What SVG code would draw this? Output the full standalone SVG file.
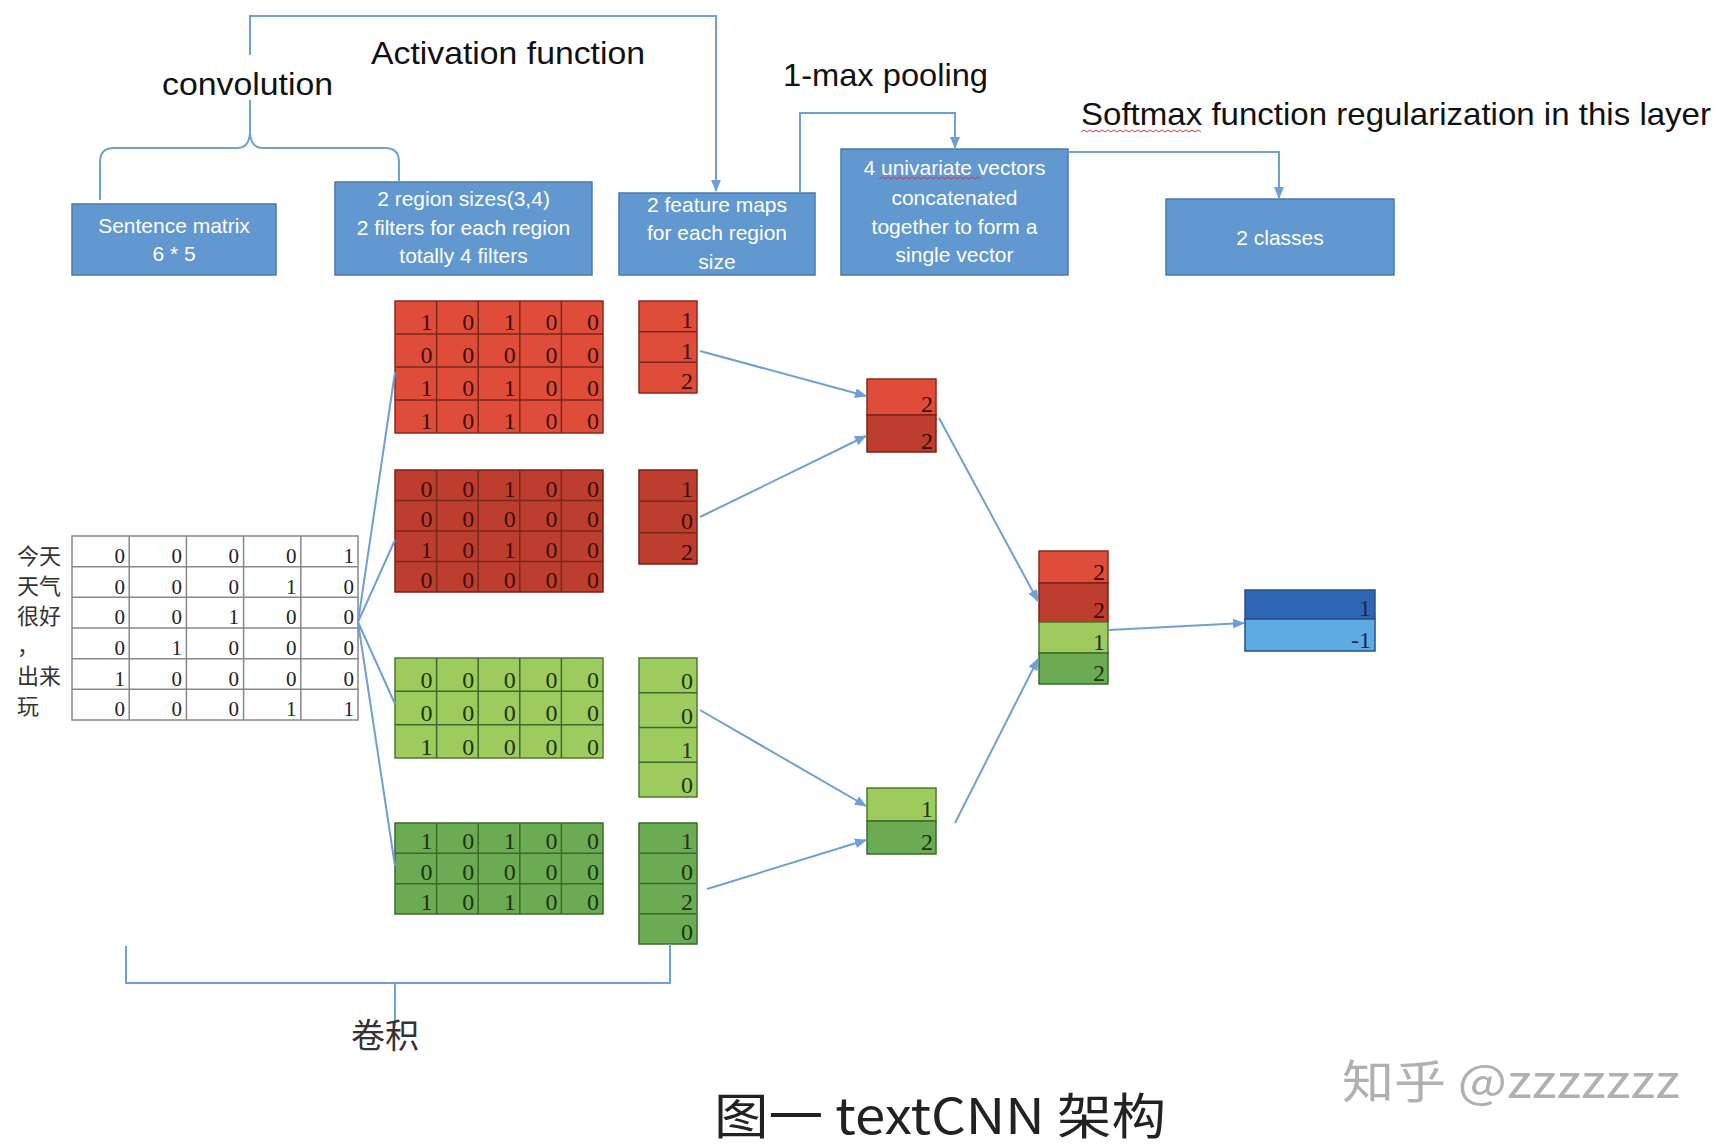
<svg xmlns="http://www.w3.org/2000/svg" width="1724" height="1148" viewBox="0 0 1724 1148">
<style>
.conn{fill:none;stroke:#6f9fd8;stroke-width:2}
.box{fill:#6298d0;stroke:#4a78b0;stroke-width:1.5}
.bt{font-family:'Liberation Sans',Arial,sans-serif;font-size:21px;fill:#fff;text-anchor:middle}
.lab{font-family:'Liberation Sans',Arial,sans-serif;font-size:32px;fill:#111}
.num{font-family:'Liberation Serif','Times New Roman',serif;font-size:24px;text-anchor:end}
.tnum{font-family:'Liberation Serif','Times New Roman',serif;font-size:21px;text-anchor:end;fill:#222}
.cjk{font-family:'Liberation Serif','Noto Sans CJK SC',serif;font-size:22px;fill:#333}
.rl{fill:#df4d3a;stroke:#8a2a1d;stroke-width:1.5}
.rd{fill:#bd3d2e;stroke:#7a2216;stroke-width:1.5}
.gl{fill:#9ecb5e;stroke:#4d7a30;stroke-width:1.5}
.gd{fill:#6aab53;stroke:#3c6b2a;stroke-width:1.5}
.bd{fill:#2f66b3;stroke:#2a4f85;stroke-width:1.5}
.bl{fill:#5dabe3;stroke:#2a4f85;stroke-width:1.5}
.rg{stroke:#7d271b;stroke-width:1.5;fill:none}
.gg{stroke:#3d6a2a;stroke-width:1.5;fill:none}
.rt{fill:#3d0e06}
.gt{fill:#1c3510}
.wt{fill:#152a55}
.squig{fill:none;stroke:#d23a3a;stroke-width:1}
</style>
<defs>
<marker id="ah" markerUnits="userSpaceOnUse" markerWidth="12" markerHeight="10" refX="11" refY="5" orient="auto">
<path d="M0,0 L12,5 L0,10 z" fill="#6f9fd8"/>
</marker>
</defs>

<!-- top labels -->
<g id="labels">
<text class="lab" x="162" y="95" textLength="171" lengthAdjust="spacingAndGlyphs">convolution</text>
<text class="lab" x="371" y="64" textLength="274" lengthAdjust="spacingAndGlyphs">Activation function</text>
<text class="lab" x="783" y="86" textLength="205" lengthAdjust="spacingAndGlyphs">1-max pooling</text>
<text class="lab" x="1081" y="125" textLength="630" lengthAdjust="spacingAndGlyphs">Softmax function regularization in this layer</text>
<path class="squig" d="M1081,132 l3,-2 l3,2 l3,-2 l3,2 l3,-2 l3,2 l3,-2 l3,2 l3,-2 l3,2 l3,-2 l3,2 l3,-2 l3,2 l3,-2 l3,2 l3,-2 l3,2 l3,-2 l3,2 l3,-2 l3,2 l3,-2 l3,2 l3,-2 l3,2 l3,-2 l3,2 l3,-2 l3,2 l3,-2 l3,2 l3,-2 l3,2 l3,-2 l3,2 l3,-2 l3,2 l3,-2 l3,2"/>
</g>

<!-- header boxes -->
<g id="node-sentence">
<rect class="box" x="72" y="204" width="204" height="71"/>
<text class="bt" x="174" y="233">Sentence matrix</text>
<text class="bt" x="174" y="261">6 * 5</text>
</g>
<g id="node-region">
<rect class="box" x="335" y="182" width="257" height="93"/>
<text class="bt" x="463.5" y="206">2 region sizes(3,4)</text>
<text class="bt" x="463.5" y="235">2 filters for each region</text>
<text class="bt" x="463.5" y="263">totally 4 filters</text>
</g>
<g id="node-featuremaps">
<rect class="box" x="619" y="193" width="196" height="82"/>
<text class="bt" x="717" y="212">2 feature maps</text>
<text class="bt" x="717" y="240">for each region</text>
<text class="bt" x="717" y="269">size</text>
</g>
<g id="node-univariate">
<rect class="box" x="841" y="149" width="227" height="126"/>
<text class="bt" x="954.5" y="175">4 univariate vectors</text>
<text class="bt" x="954.5" y="205">concatenated</text>
<text class="bt" x="954.5" y="234">together to form a</text>
<text class="bt" x="954.5" y="262">single vector</text>
<path class="squig" d="M879,179 l3,-2 l3,2 l3,-2 l3,2 l3,-2 l3,2 l3,-2 l3,2 l3,-2 l3,2 l3,-2 l3,2 l3,-2 l3,2 l3,-2 l3,2 l3,-2 l3,2 l3,-2 l3,2 l3,-2 l3,2 l3,-2 l3,2 l3,-2 l3,2 l3,-2 l3,2 l3,-2 l3,2 l3,-2 l3,2 l3,-2 l3,2"/>
</g>
<g id="node-classes">
<rect class="box" x="1166" y="199" width="228" height="76"/>
<text class="bt" x="1280" y="245">2 classes</text>
</g>

<!-- sentence table -->
<g id="node-table">
<rect x="72" y="536" width="286" height="184" fill="#fff" stroke="#888" stroke-width="1.5"/>
<path d="M129.2,536V720M186.4,536V720M243.6,536V720M300.8,536V720M72,566.7H358M72,597.3H358M72,628H358M72,658.7H358M72,689.3H358" stroke="#888" stroke-width="1.5" fill="none"/>
<text class="tnum" x="125" y="563">0</text><text class="tnum" x="182" y="563">0</text><text class="tnum" x="239" y="563">0</text><text class="tnum" x="296.5" y="563">0</text><text class="tnum" x="354" y="563">1</text>
<text class="tnum" x="125" y="594">0</text><text class="tnum" x="182" y="594">0</text><text class="tnum" x="239" y="594">0</text><text class="tnum" x="296.5" y="594">1</text><text class="tnum" x="354" y="594">0</text>
<text class="tnum" x="125" y="624">0</text><text class="tnum" x="182" y="624">0</text><text class="tnum" x="239" y="624">1</text><text class="tnum" x="296.5" y="624">0</text><text class="tnum" x="354" y="624">0</text>
<text class="tnum" x="125" y="655">0</text><text class="tnum" x="182" y="655">1</text><text class="tnum" x="239" y="655">0</text><text class="tnum" x="296.5" y="655">0</text><text class="tnum" x="354" y="655">0</text>
<text class="tnum" x="125" y="686">1</text><text class="tnum" x="182" y="686">0</text><text class="tnum" x="239" y="686">0</text><text class="tnum" x="296.5" y="686">0</text><text class="tnum" x="354" y="686">0</text>
<text class="tnum" x="125" y="716">0</text><text class="tnum" x="182" y="716">0</text><text class="tnum" x="239" y="716">0</text><text class="tnum" x="296.5" y="716">1</text><text class="tnum" x="354" y="716">1</text>
<text class="cjk" x="17" y="564">今天</text>
<text class="cjk" x="17" y="594">天气</text>
<text class="cjk" x="17" y="624">很好</text>
<text class="cjk" x="17" y="654">，</text>
<text class="cjk" x="17" y="684">出来</text>
<text class="cjk" x="17" y="714">玩</text>
</g>

<!-- filter matrices -->
<g id="node-filter-red1">
<rect class="rl" x="395" y="301" width="208" height="132"/>
<path class="rg" d="M436.6,301V433M478.2,301V433M519.8,301V433M561.4,301V433M395,334H603M395,367H603M395,400H603"/>
<g class="rt">
<text class="num" x="432.6" y="330">1</text><text class="num" x="474.2" y="330">0</text><text class="num" x="515.8" y="330">1</text><text class="num" x="557.4" y="330">0</text><text class="num" x="599" y="330">0</text>
<text class="num" x="432.6" y="363">0</text><text class="num" x="474.2" y="363">0</text><text class="num" x="515.8" y="363">0</text><text class="num" x="557.4" y="363">0</text><text class="num" x="599" y="363">0</text>
<text class="num" x="432.6" y="396">1</text><text class="num" x="474.2" y="396">0</text><text class="num" x="515.8" y="396">1</text><text class="num" x="557.4" y="396">0</text><text class="num" x="599" y="396">0</text>
<text class="num" x="432.6" y="429">1</text><text class="num" x="474.2" y="429">0</text><text class="num" x="515.8" y="429">1</text><text class="num" x="557.4" y="429">0</text><text class="num" x="599" y="429">0</text>
</g>
</g>
<g id="node-filter-red2">
<rect class="rd" x="395" y="470" width="208" height="122"/>
<path class="rg" d="M436.6,470V592M478.2,470V592M519.8,470V592M561.4,470V592M395,500.5H603M395,531H603M395,561.5H603"/>
<g class="rt">
<text class="num" x="432.6" y="497">0</text><text class="num" x="474.2" y="497">0</text><text class="num" x="515.8" y="497">1</text><text class="num" x="557.4" y="497">0</text><text class="num" x="599" y="497">0</text>
<text class="num" x="432.6" y="527">0</text><text class="num" x="474.2" y="527">0</text><text class="num" x="515.8" y="527">0</text><text class="num" x="557.4" y="527">0</text><text class="num" x="599" y="527">0</text>
<text class="num" x="432.6" y="558">1</text><text class="num" x="474.2" y="558">0</text><text class="num" x="515.8" y="558">1</text><text class="num" x="557.4" y="558">0</text><text class="num" x="599" y="558">0</text>
<text class="num" x="432.6" y="588">0</text><text class="num" x="474.2" y="588">0</text><text class="num" x="515.8" y="588">0</text><text class="num" x="557.4" y="588">0</text><text class="num" x="599" y="588">0</text>
</g>
</g>
<g id="node-filter-green1">
<rect class="gl" x="395" y="658" width="208" height="100"/>
<path class="gg" d="M436.6,658V758M478.2,658V758M519.8,658V758M561.4,658V758M395,691.3H603M395,724.7H603"/>
<g class="gt">
<text class="num" x="432.6" y="688">0</text><text class="num" x="474.2" y="688">0</text><text class="num" x="515.8" y="688">0</text><text class="num" x="557.4" y="688">0</text><text class="num" x="599" y="688">0</text>
<text class="num" x="432.6" y="721">0</text><text class="num" x="474.2" y="721">0</text><text class="num" x="515.8" y="721">0</text><text class="num" x="557.4" y="721">0</text><text class="num" x="599" y="721">0</text>
<text class="num" x="432.6" y="755">1</text><text class="num" x="474.2" y="755">0</text><text class="num" x="515.8" y="755">0</text><text class="num" x="557.4" y="755">0</text><text class="num" x="599" y="755">0</text>
</g>
</g>
<g id="node-filter-green2">
<rect class="gd" x="395" y="823" width="208" height="91"/>
<path class="gg" d="M436.6,823V914M478.2,823V914M519.8,823V914M561.4,823V914M395,853.3H603M395,883.7H603"/>
<g class="gt">
<text class="num" x="432.6" y="849">1</text><text class="num" x="474.2" y="849">0</text><text class="num" x="515.8" y="849">1</text><text class="num" x="557.4" y="849">0</text><text class="num" x="599" y="849">0</text>
<text class="num" x="432.6" y="880">0</text><text class="num" x="474.2" y="880">0</text><text class="num" x="515.8" y="880">0</text><text class="num" x="557.4" y="880">0</text><text class="num" x="599" y="880">0</text>
<text class="num" x="432.6" y="910">1</text><text class="num" x="474.2" y="910">0</text><text class="num" x="515.8" y="910">1</text><text class="num" x="557.4" y="910">0</text><text class="num" x="599" y="910">0</text>
</g>
</g>

<!-- feature maps -->
<g id="node-fmap-red1">
<rect class="rl" x="639" y="301" width="58" height="92"/>
<path class="rg" d="M639,331.7H697M639,362.3H697"/>
<g class="rt"><text class="num" x="693" y="328">1</text><text class="num" x="693" y="359">1</text><text class="num" x="693" y="389">2</text></g>
</g>
<g id="node-fmap-red2">
<rect class="rd" x="639" y="470" width="58" height="94"/>
<path class="rg" d="M639,501.3H697M639,532.7H697"/>
<g class="rt"><text class="num" x="693" y="497">1</text><text class="num" x="693" y="529">0</text><text class="num" x="693" y="560">2</text></g>
</g>
<g id="node-fmap-green1">
<rect class="gl" x="639" y="658" width="58" height="139"/>
<path class="gg" d="M639,692.75H697M639,727.5H697M639,762.25H697"/>
<g class="gt"><text class="num" x="693" y="689">0</text><text class="num" x="693" y="724">0</text><text class="num" x="693" y="758">1</text><text class="num" x="693" y="793">0</text></g>
</g>
<g id="node-fmap-green2">
<rect class="gd" x="639" y="823" width="58" height="121"/>
<path class="gg" d="M639,853.25H697M639,883.5H697M639,913.75H697"/>
<g class="gt"><text class="num" x="693" y="849">1</text><text class="num" x="693" y="880">0</text><text class="num" x="693" y="910">2</text><text class="num" x="693" y="940">0</text></g>
</g>

<!-- pooled -->
<g id="node-pool-red">
<rect class="rl" x="867" y="379" width="69" height="36"/>
<rect class="rd" x="867" y="415" width="69" height="37"/>
<g class="rt"><text class="num" x="933" y="412">2</text><text class="num" x="933" y="449">2</text></g>
</g>
<g id="node-pool-green">
<rect class="gl" x="867" y="788" width="69" height="33"/>
<rect class="gd" x="867" y="821" width="69" height="33"/>
<g class="gt"><text class="num" x="933" y="817">1</text><text class="num" x="933" y="850">2</text></g>
</g>

<!-- concatenated -->
<g id="node-concat">
<rect class="rl" x="1039" y="551" width="69" height="32"/>
<rect class="rd" x="1039" y="583" width="69" height="39"/>
<rect class="gl" x="1039" y="622" width="69" height="31"/>
<rect class="gd" x="1039" y="653" width="69" height="31"/>
<g class="rt"><text class="num" x="1105" y="580">2</text><text class="num" x="1105" y="618">2</text></g>
<g class="gt"><text class="num" x="1105" y="650">1</text><text class="num" x="1105" y="681">2</text></g>
</g>

<!-- output -->
<g id="node-output">
<rect class="bd" x="1245" y="590" width="130" height="29"/>
<rect class="bl" x="1245" y="619" width="130" height="32"/>
<g class="wt"><text class="num" x="1371" y="616">1</text><text class="num" x="1371" y="648">-1</text></g>
</g>

<!-- connectors -->
<g id="connectors">
<path class="conn" d="M250,55 V16 H716 V191" marker-end="url(#ah)"/>
<path class="conn" d="M250,100 V133"/>
<path class="conn" d="M100,200 V162 Q100,148 114,148 H237 Q249,148 250,133 Q251,148 263,148 H385 Q399,148 399,162 V182"/>
<path class="conn" d="M800,193 V113 H955 V148" marker-end="url(#ah)"/>
<path class="conn" d="M1068,152 H1279 V198" marker-end="url(#ah)"/>
<path class="conn" d="M358,622 L395,372"/>
<path class="conn" d="M358,622 L395,540"/>
<path class="conn" d="M358,622 L395,704"/>
<path class="conn" d="M358,622 L395,866"/>
<path class="conn" d="M700,351 L866,396" marker-end="url(#ah)"/>
<path class="conn" d="M700,517 L866,436" marker-end="url(#ah)"/>
<path class="conn" d="M700,710 L866,806" marker-end="url(#ah)"/>
<path class="conn" d="M707,889 L866,840" marker-end="url(#ah)"/>
<path class="conn" d="M939,418 L1038,601" marker-end="url(#ah)"/>
<path class="conn" d="M955,823 L1038,659" marker-end="url(#ah)"/>
<path class="conn" d="M1109,630 L1244,623" marker-end="url(#ah)"/>
<path class="conn" d="M126,946 V983 H670 V944"/>
<path class="conn" d="M395,983 V1026"/>
</g>

<!-- bottom texts -->
<text x="385" y="1048" text-anchor="middle" font-family="'Noto Sans CJK SC',sans-serif" font-size="34" fill="#333">卷积</text>
<text x="1342" y="1098" font-family="'Noto Sans CJK SC',sans-serif" font-size="46" fill="#b0b0b0" textLength="338" lengthAdjust="spacingAndGlyphs">知乎 @zzzzzzz</text>
<text x="714" y="1134" font-family="'Noto Sans CJK SC',sans-serif" font-size="49" fill="#222" textLength="452" lengthAdjust="spacingAndGlyphs">图一 textCNN 架构</text>
</svg>
